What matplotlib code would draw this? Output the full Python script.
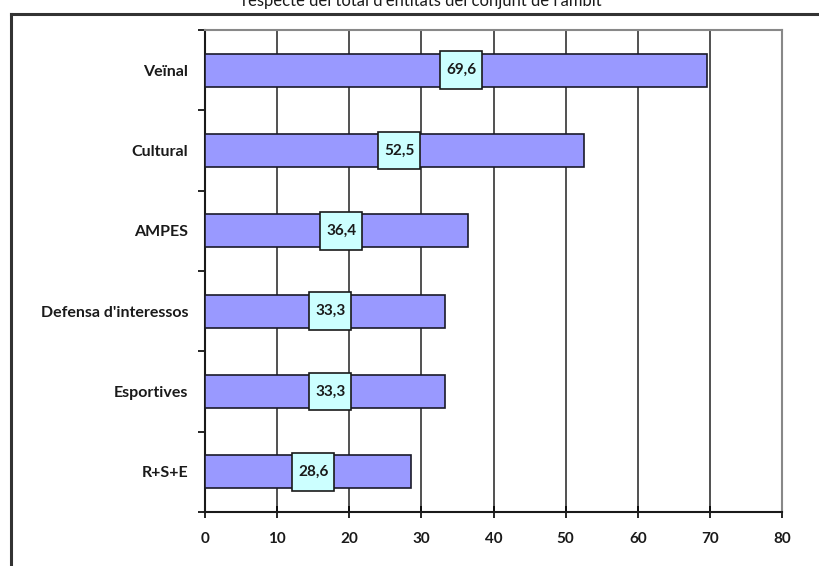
import matplotlib
matplotlib.use("Agg")
import matplotlib.pyplot as plt
from matplotlib.patches import Rectangle
from matplotlib.lines import Line2D

# data (top to bottom as in the chart)
categories = ["Veïnal", "Cultural", "AMPES", "Defensa d'interessos", "Esportives", "R+S+E"]
values = [69.6, 52.5, 36.4, 33.3, 33.3, 28.6]
value_labels = ["69,6", "52,5", "36,4", "33,3", "33,3", "28,6"]
xticks = [0, 10, 20, 30, 40, 50, 60, 70, 80]
title = "respecte del total d'entitats del conjunt de l'àmbit"

plt.rcParams['font.family'] = ['Lato', 'DejaVu Sans']

fig = plt.figure(figsize=(8.19, 5.66), dpi=100)
ax = fig.add_axes([205/819, 1 - 512/566, (782-205)/819, (512-30)/566])

n = len(categories)
ypos = list(range(n))[::-1]  # top category highest

ax.barh(ypos, values, height=0.41, color="#9999FF", edgecolor="#1a1a2a",
        linewidth=1.2, zorder=3)

# value boxes
bw, bh = 5.8, 0.47
for y, v, lab in zip(ypos, values, value_labels):
    cx = v / 2 + 0.7
    ax.add_patch(Rectangle((cx - bw/2, y - bh/2), bw, bh, facecolor="#CCFFFF",
                           edgecolor="#1a1a1a", linewidth=1.2, zorder=4))
    ax.text(cx, y, lab, ha="center", va="center", fontsize=11, fontweight="bold",
            color="#1a1a1a", zorder=5)

ax.set_xlim(0, 80)
ax.set_ylim(-0.5, n - 0.5)
ax.set_xticks(xticks)
ax.set_xticklabels([str(t) for t in xticks], fontsize=11, fontweight="bold", color="#1a1a1a")
ax.tick_params(axis="x", direction="inout", length=9, width=1.2, pad=10)

# y ticks at category boundaries, labels at centres
ax.set_yticks([i - 0.5 for i in range(n + 1)])
ax.set_yticklabels([])
ax.tick_params(axis="y", which="major", direction="out", length=5, width=1.2)
ax.set_yticks(ypos, minor=True)
ax.set_yticklabels(categories, minor=True, fontsize=11.5, fontweight="bold", color="#1a1a1a")
ax.tick_params(axis="y", which="minor", length=0, pad=12)

ax.grid(axis="x", color="#222222", linewidth=1.1, zorder=1)
ax.set_axisbelow(True)

for s in ["left", "bottom"]:
    ax.spines[s].set_color("#1a1a1a")
    ax.spines[s].set_linewidth(1.5)
for s in ["top", "right"]:
    ax.spines[s].set_color("#888888")
    ax.spines[s].set_linewidth(1.5)

# outer chart-area frame (cut off at right and bottom)
fig.add_artist(Line2D([11/819, 11/819], [-0.1, 1 - 14/566], transform=fig.transFigure,
                      color="#333333", linewidth=2.2))
fig.add_artist(Line2D([11/819, 1.1], [1 - 14/566, 1 - 14/566], transform=fig.transFigure,
                      color="#333333", linewidth=2.2))

fig.text(0.515, 0.998, title, ha="center", va="center", fontsize=12, color="#1a1a1a")

fig.savefig("out.png", dpi=100)
